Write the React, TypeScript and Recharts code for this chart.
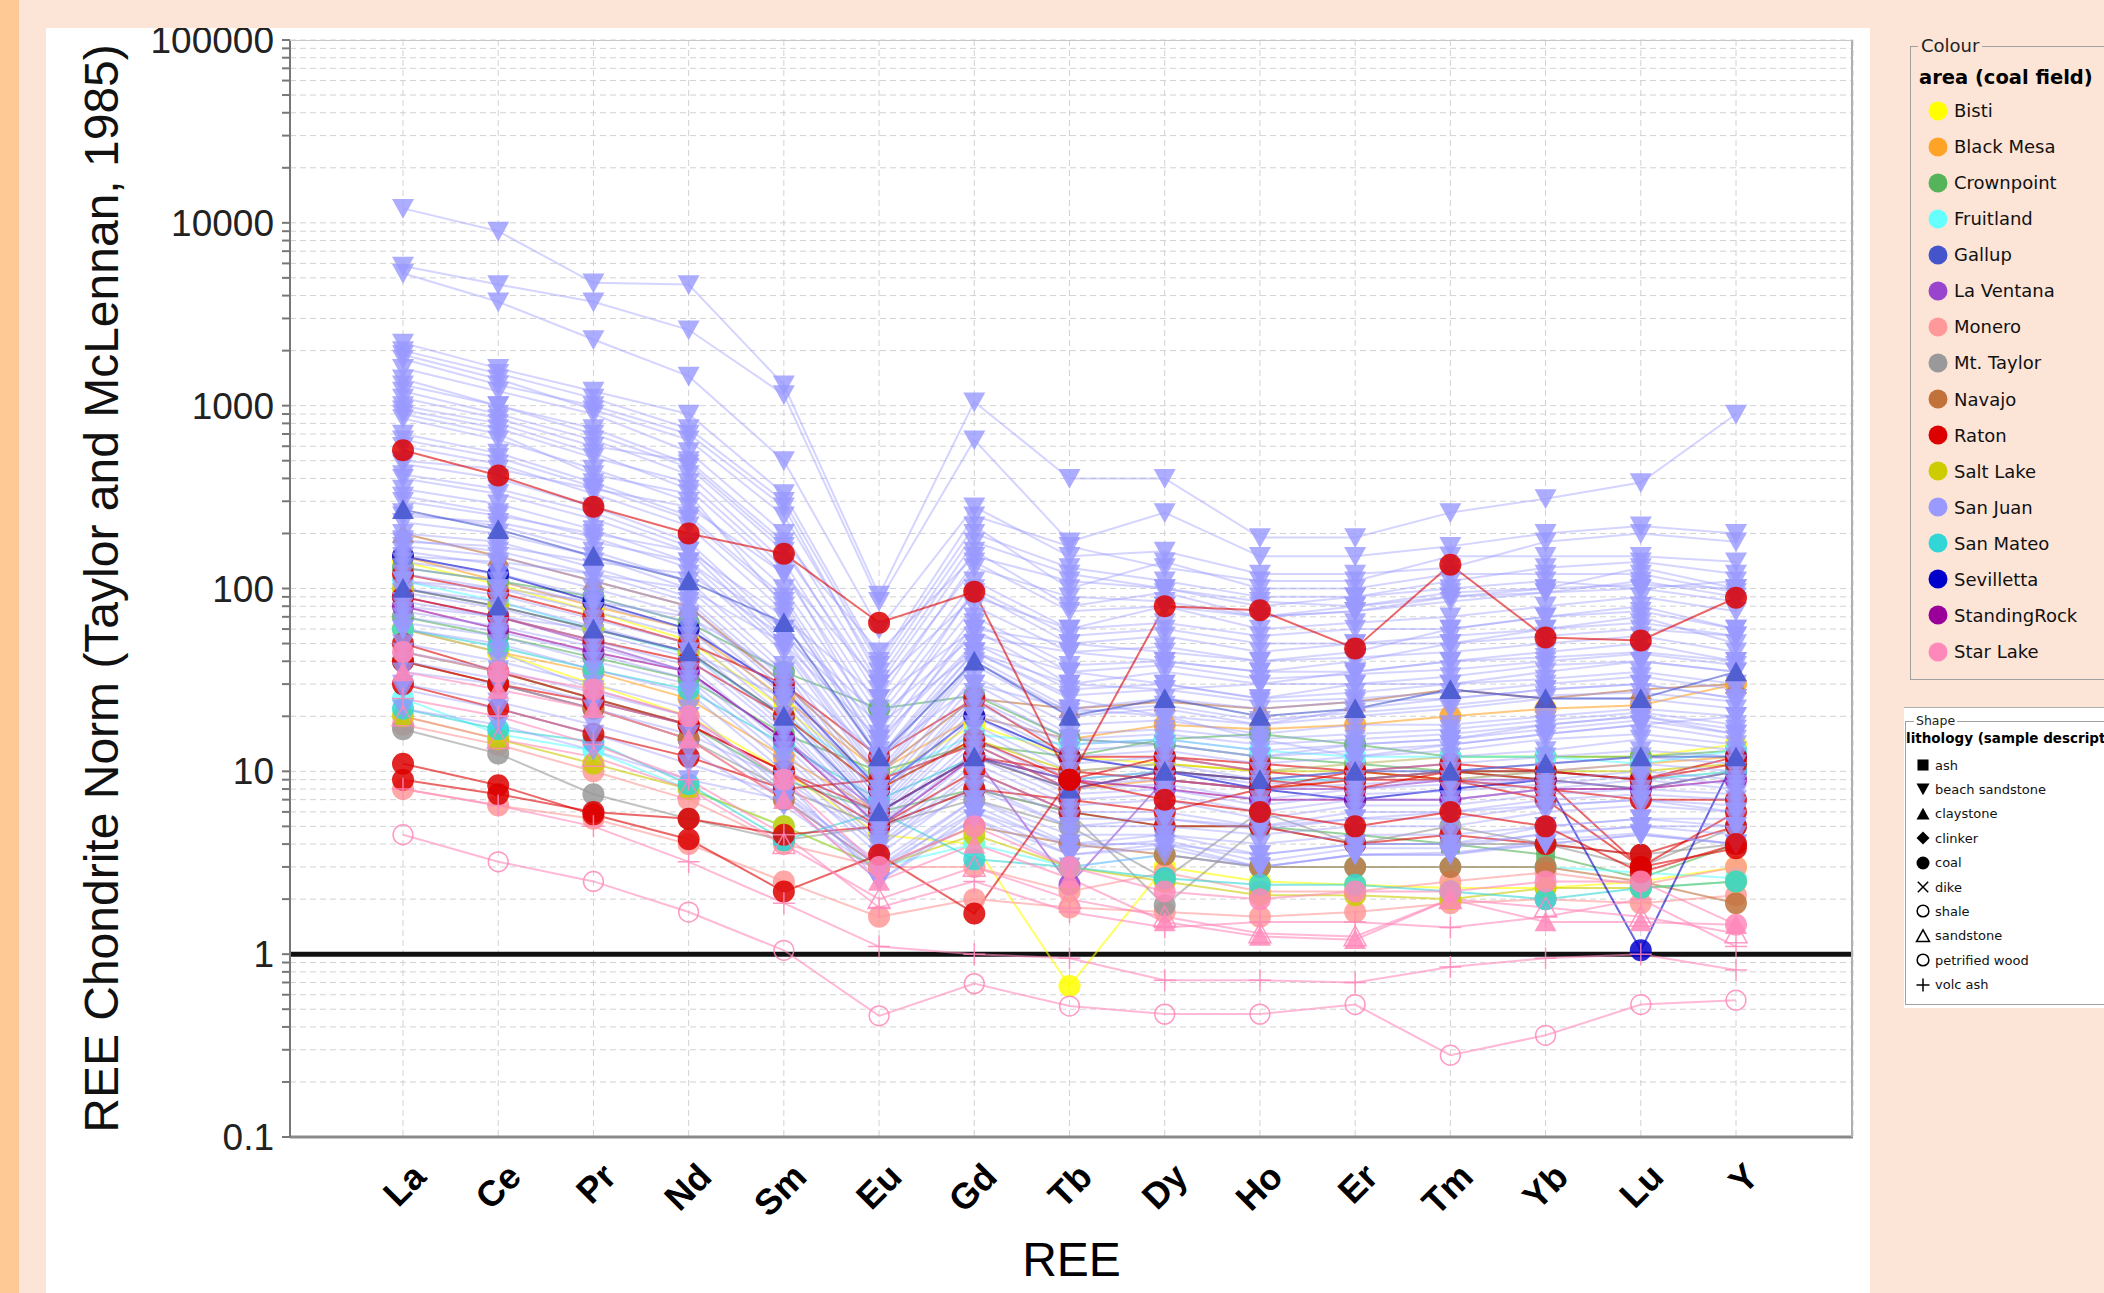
import React from "react";
import {
  LineChart,
  Line,
  XAxis,
  YAxis,
  CartesianGrid,
  ReferenceLine,
  Label,
} from "recharts";

// REE spider diagram, chondrite normalised (Taylor & McLennan, 1985)

const REE = ["La", "Ce", "Pr", "Nd", "Sm", "Eu", "Gd", "Tb", "Dy", "Ho", "Er", "Tm", "Yb", "Lu", "Y"];

const Y_MAJOR = [0.1, 1, 10, 100, 1000, 10000, 100000];

// values per sample, La..Y
const sanJuanBeach: number[][] = [
  [12000, 9000, 4700, 4600, 1300, 92, 1050, 400, 400, 190, 190, 260, 310, 380, 900],
  [5800, 4600, 3700, 2600, 1150, 85, 650, 180, 260, 150, 150, 170, 200, 220, 200],
  [5300, 3700, 2300, 1450, 500, 60, 280, 150, 160, 120, 120, 130, 180, 200, 180],
  [2200, 1600, 1200, 900, 330, 40, 250, 170, 130, 110, 110, 150, 150, 150, 140],
  [2000, 1500, 1100, 750, 300, 38, 220, 100, 140, 100, 100, 120, 120, 120, 95],
  [1900, 1400, 950, 650, 250, 35, 200, 130, 110, 90, 90, 100, 110, 100, 110],
  [1800, 1300, 1000, 700, 280, 32, 180, 120, 100, 85, 80, 95, 100, 105, 100],
  [1600, 1200, 900, 560, 200, 30, 160, 80, 95, 70, 80, 90, 95, 110, 90],
  [1400, 1000, 750, 480, 170, 25, 140, 75, 80, 60, 65, 70, 80, 90, 75],
  [1300, 1000, 700, 460, 160, 28, 130, 90, 85, 70, 75, 85, 95, 100, 85],
  [1200, 900, 650, 420, 140, 22, 110, 60, 65, 55, 60, 60, 70, 75, 60],
  [1100, 850, 600, 500, 180, 45, 150, 110, 100, 80, 90, 110, 130, 140, 120],
  [1000, 800, 550, 350, 120, 20, 95, 50, 55, 45, 50, 50, 55, 60, 55],
  [950, 750, 520, 380, 130, 16, 100, 55, 60, 50, 50, 55, 60, 65, 55],
  [900, 700, 420, 330, 80, 12, 45, 25, 20, 15, 12, 14, 16, 18, 20],
  [850, 650, 450, 300, 100, 18, 80, 45, 48, 40, 42, 45, 50, 55, 45],
  [700, 550, 380, 250, 90, 15, 70, 38, 40, 35, 35, 40, 42, 45, 40],
  [650, 520, 360, 240, 85, 13, 65, 35, 38, 32, 34, 36, 40, 44, 38],
  [600, 480, 330, 220, 75, 14, 60, 30, 35, 30, 30, 33, 38, 40, 35],
  [500, 450, 350, 280, 120, 30, 90, 60, 80, 70, 75, 90, 100, 130, 100],
  [480, 400, 280, 180, 60, 12, 50, 28, 30, 25, 27, 30, 32, 35, 30],
  [420, 350, 260, 170, 55, 11, 45, 26, 28, 24, 25, 27, 30, 33, 28],
  [400, 330, 240, 160, 50, 10, 42, 22, 25, 22, 24, 25, 28, 30, 25],
  [350, 290, 210, 140, 48, 9.5, 40, 21, 23, 19, 21, 23, 26, 27, 24],
  [320, 260, 190, 130, 45, 9, 38, 20, 22, 18, 20, 22, 25, 25, 22],
  [300, 250, 200, 160, 70, 25, 60, 50, 45, 40, 45, 60, 70, 80, 60],
  [260, 220, 160, 110, 38, 8, 33, 18, 19, 16, 18, 18, 20, 22, 20],
  [250, 230, 180, 140, 60, 20, 55, 45, 40, 35, 40, 50, 60, 70, 50],
  [230, 200, 150, 100, 35, 7.5, 30, 16, 17, 15, 16, 17, 19, 21, 18],
  [200, 180, 130, 90, 32, 7, 27, 15, 16, 14, 15, 16, 18, 20, 17],
  [185, 160, 120, 85, 30, 7, 25, 14, 15, 13, 14, 15, 17, 19, 16],
  [180, 170, 140, 120, 55, 18, 45, 30, 28, 30, 35, 40, 45, 50, 40],
  [170, 150, 110, 80, 28, 6.5, 24, 13, 14, 12, 13, 14, 16, 18, 15],
  [160, 135, 100, 72, 26, 6.2, 22, 12, 13, 11, 12, 13, 15, 16, 14],
  [150, 140, 120, 100, 50, 15, 50, 35, 30, 25, 30, 30, 35, 40, 35],
  [140, 120, 90, 65, 24, 6, 20, 11, 12, 10, 11, 12, 13, 15, 13],
  [130, 110, 82, 60, 22, 5.8, 18, 10, 11, 9, 10, 11, 12, 13, 12],
  [120, 100, 75, 55, 20, 5.5, 17, 9, 10, 8.5, 9, 10, 11, 12, 11],
  [110, 100, 85, 70, 35, 12, 30, 22, 20, 18, 22, 25, 28, 30, 25],
  [110, 92, 68, 50, 18, 5.2, 15, 8.5, 9, 8, 8.5, 9, 10, 11, 10],
  [100, 85, 62, 45, 17, 5, 14, 8, 8.5, 7, 8, 8.5, 9, 10, 9],
  [95, 78, 57, 42, 16, 4.8, 13, 7.5, 8, 6.5, 7.5, 7.8, 8.5, 9.5, 8.5],
  [85, 70, 52, 38, 14, 4.5, 12, 7, 7.5, 6, 7, 7, 8, 9, 8],
  [80, 70, 60, 45, 25, 8, 20, 15, 14, 12, 14, 15, 18, 20, 16],
  [75, 62, 48, 35, 13, 4.2, 11, 6.5, 7, 5.5, 6.5, 6.5, 7.5, 8, 7.5],
  [70, 58, 44, 32, 12, 4, 10, 6, 6, 5, 6, 6, 7, 7.5, 7],
  [65, 55, 40, 30, 11, 3.8, 9.5, 5.5, 5.5, 4.8, 5.5, 5.5, 6.5, 7, 6.5],
  [60, 50, 36, 27, 10, 3.5, 8.5, 5, 5, 4.5, 5, 5, 6, 6.5, 6],
  [60, 45, 28, 20, 9, 2.5, 5.5, 3.5, 4, 3, 3.5, 3.5, 4, 4.5, 4],
  [50, 40, 30, 22, 8, 3, 7, 4, 4.5, 3.5, 4, 4, 5, 5.5, 5],
  [45, 36, 27, 20, 7.5, 2.8, 6.5, 3.8, 4.2, 3.2, 3.8, 3.8, 4.6, 5, 4.5],
  [40, 32, 24, 18, 7, 2.5, 6, 3.5, 3.8, 3, 3.5, 3.5, 4.2, 4.6, 4],
  [35, 30, 22, 16, 9, 4, 8, 5, 5.5, 5, 5.5, 6, 6.5, 7, 6],
  [30, 24, 18, 13, 6.5, 2.8, 5.5, 3, 3.5, 3, 3.5, 3.6, 4, 4.5, 4],
  [28, 22, 16, 11, 7.5, 3.2, 7, 4.5, 4.5, 4, 4.5, 4.5, 5, 5.5, 5.5],
  [22, 18, 13, 9, 7, 3, 6, 4, 4, 3.5, 4, 4, 4.5, 5, 5],
];

const blackMesaCoal: number[][] = [
  [150, 110, 80, 60, 25, 10, 20, 15, 18, 17, 18, 20, 22, 23, 30],
  [60, 45, 35, 25, 12, 6, 12, 8, 9, 8, 9, 10, 10, 11, 12],
];
const bistiCoal: number[][] = [
  [60, 45, 30, 20, 10, 4.5, 4, 0.67, 3, 2.5, 2.4, 2.3, 2.3, 2.5, 3],
  [140, 105, 75, 52, 22, 9, 18, 12, 11, 10, 11, 12, 12, 12, 14],
];
const crownpointCoal: number[][] = [
  [130, 110, 90, 65, 35, 22, 26, 15, 14, 12, 11, 10, 9, 8, 10],
  [70, 55, 42, 32, 16, 10, 14, 12, 15, 16, 14, 12, 12, 12, 13],
];
const crownpointAsh: number[][] = [
  [45, 35, 25, 18, 9, 6, 8, 6, 5, 5, 4.5, 4, 3.5, 2.6, 4],
];
const fruitlandCoal: number[][] = [
  [25, 16, 13, 8, 5, 3, 4, 3, 3.5, 3, 3, 3, 3, 2.8, 2.6],
  [110, 85, 60, 44, 20, 9, 16, 14, 15, 13, 12, 12, 12, 11, 13],
];
const gallupClaystone: number[][] = [
  [270, 210, 150, 110, 65, 12, 40, 20, 25, 20, 22, 28, 25, 25, 35],
  [100, 80, 60, 45, 20, 6, 12, 8, 10, 9, 10, 10, 11, 12, 12],
];
const laVentanaCoal: number[][] = [
  [90, 70, 50, 35, 15, 6, 12, 2.4, 9, 8, 8, 9, 9, 8, 10],
];
const moneroCoal: number[][] = [
  [18, 14, 10, 7, 4, 3, 3, 2.2, 2.8, 2.2, 2.2, 2.5, 2.8, 2.4, 3],
  [8, 6.5, 5.5, 4, 2.5, 1.6, 2, 1.8, 1.7, 1.6, 1.7, 1.9, 2, 1.9, 2.1],
];
const mtTaylorCoal: number[][] = [
  [17, 12.5, 7.5, 5.5, 4.2, 5, 7, 5, 2.6, 6, 4, 5, 4, 3, 5],
  [40, 30, 22, 15, 8, 5, 8, 6, 1.85, 5, 4, 4, 4, 3.5, 4],
];
const navajoClaystone: number[][] = [
  [200, 150, 110, 80, 30, 10, 25, 22, 24, 22, 24, 28, 25, 28, 30],
];
const navajoCoal: number[][] = [
  [40, 30, 22, 15, 7, 3, 5, 4, 3.5, 3, 3, 3, 3, 2.5, 1.9],
];
const saltLakeCoal: number[][] = [
  [100, 80, 60, 45, 20, 8, 15, 10, 11, 10, 10, 9, 10, 10, 11],
  [20, 15, 11, 8, 5, 3, 4.5, 3, 2.5, 2.1, 2.1, 2.0, 2.3, 2.3, 2.5],
];
const sanMateoCoal: number[][] = [
  [22, 17, 14.5, 8.5, 4.2, 6, 3.3, 3, 2.6, 2.4, 2.4, 2.2, 2.0, 2.3, 2.5],
  [60, 48, 36, 28, 14, 7, 12, 9, 10, 9, 9, 10, 10, 9, 10],
];
const sevillettaCoal: number[][] = [
  [150, 120, 85, 60, 28, 8, 20, 12, 10, 8, 7, 8, 9, 1.05, 12],
];
const standingRockCoal: number[][] = [
  [80, 60, 45, 35, 15, 5, 12, 9, 8, 7, 7, 7, 8, 8, 9],
];
// mid-range Raton samples, mostly hidden under San Juan
const ratonCoal: number[][] = [
  [30, 22, 16, 12, 8, 9, 14, 8, 10, 9, 8, 10, 9, 3, 6],
  [120, 95, 70, 50, 30, 12, 25, 12, 12, 10, 9, 10, 10, 9, 12],
  [50, 35, 25, 18, 10, 5, 10, 6, 5, 5, 4, 4.5, 4, 3.5, 5],
  [90, 70, 52, 40, 20, 8, 15, 9, 12, 11, 10, 11, 10, 9, 11],
  [40, 30, 24, 18, 10, 6, 12, 10, 9, 8, 9, 9, 8, 7, 7],
  [9, 7.5, 6, 5.5, 4.5, 5, 8, 7, 6, 8, 10, 9, 7, 3, 3.8],
];
const ratonCoalOutliers: number[][] = [
  [570, 415, 280, 200, 155, 65, 96, 9, 80, 76, 47, 135, 54, 52, 89],
  [11, 8.4, 5.8, 4.25, 2.2, 3.5, 1.67, 9, 7, 6, 5, 6, 5, 2.8, 4],
];
const starLakeShale: number[][] = [
  [4.5, 3.2, 2.5, 1.7, 1.05, 0.46, 0.69, 0.52, 0.47, 0.47, 0.53, 0.28, 0.36, 0.53, 0.56],
];
const starLakeVolcAsh: number[][] = [
  [8, 6.5, 5, 3.2, 1.9, 1.1, 1.0, 0.95, 0.72, 0.72, 0.7, 0.85, 0.95, 1.0, 0.82],
  [25, 20, 14, 9, 4.5, 1.8, 2.5, 1.7, 1.4, 1.5, 1.5, 1.4, 1.6, 2, 1.1],
];
const starLakeSandstone: number[][] = [
  [20, 15, 12, 8, 4, 2, 3, 2, 1.6, 1.3, 1.25, 2, 1.8, 1.6, 1.3],
];
const starLakeClaystone: number[][] = [
  [35, 28, 22, 15, 7, 2.5, 4, 2.6, 1.5, 1.25, 1.2, 2, 1.5, 1.5, 1.45],
];
const starLakeCoal: number[][] = [
  [45, 35, 28, 20, 9, 3, 5, 3, 2.2, 2, 2.2, 2.2, 2.5, 2.5, 1.45],
];

const AREAS = [
  "Bisti", "Black Mesa", "Crownpoint", "Fruitland", "Gallup", "La Ventana", "Monero", "Mt. Taylor",
  "Navajo", "Raton", "Salt Lake", "San Juan", "San Mateo", "Sevilletta", "StandingRock", "Star Lake",
];

const AREA_COLORS: Record<string, string> = {
  Bisti: "#FFFF00",
  "Black Mesa": "#FFA326",
  Crownpoint: "#55B35A",
  Fruitland: "#66FFFF",
  Gallup: "#4455CC",
  "La Ventana": "#9944CC",
  Monero: "#FF9999",
  "Mt. Taylor": "#999999",
  Navajo: "#C0723A",
  Raton: "#DD0000",
  "Salt Lake": "#CCCC00",
  "San Juan": "#9999FF",
  "San Mateo": "#33D6D6",
  Sevilletta: "#0000CC",
  StandingRock: "#990099",
  "Star Lake": "#FF88BB",
};

const LITHOLOGIES = [
  { key: "ash", label: "ash" },
  { key: "beach", label: "beach sandstone" },
  { key: "clay", label: "claystone" },
  { key: "clinker", label: "clinker" },
  { key: "coal", label: "coal" },
  { key: "dike", label: "dike" },
  { key: "shale", label: "shale" },
  { key: "sand", label: "sandstone" },
  { key: "wood", label: "petrified wood" },
  { key: "volc", label: "volc ash" },
];

// draw order: most areas under San Juan, a few outliers on top
const SERIES_GROUPS = [
  { area: "Black Mesa", lith: "coal", rows: blackMesaCoal },
  { area: "Bisti", lith: "coal", rows: bistiCoal },
  { area: "Crownpoint", lith: "coal", rows: crownpointCoal },
  { area: "Crownpoint", lith: "ash", rows: crownpointAsh },
  { area: "Fruitland", lith: "coal", rows: fruitlandCoal },
  { area: "La Ventana", lith: "coal", rows: laVentanaCoal },
  { area: "Monero", lith: "coal", rows: moneroCoal },
  { area: "Mt. Taylor", lith: "coal", rows: mtTaylorCoal },
  { area: "Navajo", lith: "clay", rows: navajoClaystone },
  { area: "Navajo", lith: "coal", rows: navajoCoal },
  { area: "Salt Lake", lith: "coal", rows: saltLakeCoal },
  { area: "San Mateo", lith: "coal", rows: sanMateoCoal },
  { area: "Sevilletta", lith: "coal", rows: sevillettaCoal },
  { area: "StandingRock", lith: "coal", rows: standingRockCoal },
  { area: "Raton", lith: "coal", rows: ratonCoal },
  { area: "San Juan", lith: "beach", rows: sanJuanBeach },
  { area: "Gallup", lith: "clay", rows: gallupClaystone },
  { area: "Raton", lith: "coal", rows: ratonCoalOutliers },
  { area: "Star Lake", lith: "shale", rows: starLakeShale },
  { area: "Star Lake", lith: "volc", rows: starLakeVolcAsh },
  { area: "Star Lake", lith: "sand", rows: starLakeSandstone },
  { area: "Star Lake", lith: "clay", rows: starLakeClaystone },
  { area: "Star Lake", lith: "coal", rows: starLakeCoal },
];

type Series = { id: string; area: string; lith: string; values: number[] };

const SERIES: Series[] = SERIES_GROUPS.flatMap((g, gi) =>
  g.rows.map((values, ri) => ({ id: `s${gi}_${ri}`, area: g.area, lith: g.lith, values }))
);

const chartData = REE.map((el, i) => {
  const row: Record<string, any> = { el };
  SERIES.forEach((s) => {
    row[s.id] = s.values[i];
  });
  return row;
});

const Y_TICKS: number[] = [];
Y_MAJOR.forEach((d, i) => {
  Y_TICKS.push(d);
  if (i < Y_MAJOR.length - 1) {
    for (let m = 2; m <= 9; m++) Y_TICKS.push(+(d * m).toPrecision(3));
  }
});

const ARIAL = '"Liberation Sans", Arial, sans-serif';
const TAHOMA = '"DejaVu Sans", Verdana, sans-serif';
const PEACH = "#FCE4D6";

function Marker({ cx, cy, shape, color, r = 11, opacity = 1 }: any) {
  switch (shape) {
    case "ash":
      return <rect x={cx - r * 0.85} y={cy - r * 0.85} width={r * 1.7} height={r * 1.7} fill={color} fillOpacity={opacity} />;
    case "beach":
      return (
        <path
          d={`M${cx - r},${cy - r * 0.85}L${cx + r},${cy - r * 0.85}L${cx},${cy + r * 0.95}Z`}
          fill={color}
          fillOpacity={opacity}
        />
      );
    case "clay":
      return (
        <path
          d={`M${cx - r},${cy + r * 0.85}L${cx + r},${cy + r * 0.85}L${cx},${cy - r * 0.95}Z`}
          fill={color}
          fillOpacity={opacity}
        />
      );
    case "sand":
      return (
        <path
          d={`M${cx - r},${cy + r * 0.85}L${cx + r},${cy + r * 0.85}L${cx},${cy - r * 0.95}Z`}
          fill="none"
          stroke={color}
          strokeOpacity={opacity}
          strokeWidth={1.5}
        />
      );
    case "clinker":
      return (
        <path
          d={`M${cx},${cy - r}L${cx + r},${cy}L${cx},${cy + r}L${cx - r},${cy}Z`}
          fill={color}
          fillOpacity={opacity}
        />
      );
    case "dike":
      return (
        <path
          d={`M${cx - r * 0.8},${cy - r * 0.8}L${cx + r * 0.8},${cy + r * 0.8}M${cx + r * 0.8},${cy - r * 0.8}L${cx - r * 0.8},${cy + r * 0.8}`}
          stroke={color}
          strokeOpacity={opacity}
          strokeWidth={1.5}
        />
      );
    case "shale":
    case "wood":
      return <circle cx={cx} cy={cy} r={r * 0.9} fill="none" stroke={color} strokeOpacity={opacity} strokeWidth={1.5} />;
    case "volc":
      return (
        <path
          d={`M${cx - r},${cy}L${cx + r},${cy}M${cx},${cy - r}L${cx},${cy + r}`}
          stroke={color}
          strokeOpacity={opacity}
          strokeWidth={1.5}
        />
      );
    default:
      return <circle cx={cx} cy={cy} r={r} fill={color} fillOpacity={opacity} />;
  }
}

const makeDot = (s: Series) => (p: any) => {
  const key = `${s.id}-${p.index}`;
  if (p.cx == null || p.cy == null) return <g key={key} />;
  const color = AREA_COLORS[s.area];
  const op = s.area === "San Juan" ? 0.8 : 0.85;
  return (
    <g key={key}>
      <Marker cx={p.cx} cy={p.cy} shape={s.lith} color={color} opacity={op} />
    </g>
  );
};

const XTick = ({ x, y, payload }: any) => (
  <text
    x={x + 16}
    y={y + 25}
    transform={`rotate(-45, ${x + 16}, ${y + 25})`}
    textAnchor="end"
    dominantBaseline="central"
    fontFamily={ARIAL}
    fontWeight={700}
    fontSize={36}
    fill="#000"
  >
    {payload.value}
  </text>
);

function ColourLegend() {
  return (
    <>
      <div
        style={{
          position: "absolute",
          left: 1910,
          top: 46,
          width: 260,
          height: 634,
          border: "1px solid #a0a0a0",
          boxSizing: "border-box",
        }}
      />
      <div
        style={{
          position: "absolute",
          left: 1918,
          top: 35,
          padding: "0 3px",
          background: PEACH,
          fontFamily: TAHOMA,
          fontSize: 18,
          lineHeight: "22px",
          color: "#222",
        }}
      >
        Colour
      </div>
      <div
        style={{
          position: "absolute",
          left: 1919,
          top: 66,
          fontFamily: TAHOMA,
          fontSize: 19.5,
          fontWeight: 700,
          lineHeight: "24px",
          color: "#000",
          whiteSpace: "nowrap",
        }}
      >
        area (coal field)
      </div>
      {AREAS.map((a, i) => (
        <div
          key={a}
          style={{
            position: "absolute",
            left: 1927,
            top: 110.5 + i * 36.07 - 12,
            height: 24,
            display: "flex",
            alignItems: "center",
            whiteSpace: "nowrap",
          }}
        >
          <svg width={22} height={22} style={{ marginRight: 5 }}>
            <circle cx={11} cy={11} r={9.5} fill={AREA_COLORS[a]} />
          </svg>
          <span style={{ fontFamily: TAHOMA, fontSize: 18, color: "#111" }}>{a}</span>
        </div>
      ))}
    </>
  );
}

function ShapeLegend() {
  return (
    <>
      <div
        style={{
          position: "absolute",
          left: 1904,
          top: 707,
          width: 260,
          height: 300,
          background: "#fff",
          borderTop: "1px solid #b0b0b0",
        }}
      />
      <div
        style={{
          position: "absolute",
          left: 1905,
          top: 721,
          width: 260,
          height: 284,
          border: "1px solid #a0a0a0",
          boxSizing: "border-box",
        }}
      />
      <div
        style={{
          position: "absolute",
          left: 1914,
          top: 713,
          padding: "0 2px",
          background: "#fff",
          fontFamily: TAHOMA,
          fontSize: 12.5,
          lineHeight: "16px",
          color: "#222",
        }}
      >
        Shape
      </div>
      <div
        style={{
          position: "absolute",
          left: 1906,
          top: 730,
          fontFamily: TAHOMA,
          fontSize: 13.5,
          fontWeight: 700,
          lineHeight: "17px",
          whiteSpace: "nowrap",
          color: "#000",
        }}
      >
        lithology (sample description)
      </div>
      {LITHOLOGIES.map((l, i) => (
        <div
          key={l.key}
          style={{
            position: "absolute",
            left: 1914,
            top: 765 + i * 24.4 - 10,
            height: 20,
            display: "flex",
            alignItems: "center",
            whiteSpace: "nowrap",
          }}
        >
          <svg width={18} height={18} style={{ marginRight: 3 }}>
            <Marker cx={9} cy={9} shape={l.key} color="#000" r={6.5} />
          </svg>
          <span style={{ fontFamily: TAHOMA, fontSize: 13, color: "#111" }}>{l.label}</span>
        </div>
      ))}
    </>
  );
}

export default function App() {
  return (
    <div
      style={{
        position: "absolute",
        left: 0,
        top: 0,
        width: 2104,
        height: 1293,
        background: PEACH,
        overflow: "hidden",
      }}
    >
      <div style={{ position: "absolute", left: 0, top: 0, width: 19, height: 1293, background: "#FFC995" }} />
      <div style={{ position: "absolute", left: 46, top: 28, width: 1824, height: 1265, background: "#fff" }}>
        <LineChart
          width={1824}
          height={1265}
          data={chartData}
          margin={{ top: 12, right: 17, left: 0, bottom: 0 }}
        >
          <CartesianGrid stroke="#d2d2d2" strokeDasharray="6 4" />
          <XAxis
            dataKey="el"
            interval={0}
            height={156}
            padding={{ left: 113, right: 117 }}
            tickLine={false}
            axisLine={{ stroke: "#8a8a8a", strokeWidth: 3 }}
            tick={<XTick />}
          >
            <Label
              content={(props: any) => {
                const vb = props.viewBox || { x: 244, y: 1109, width: 1563, height: 156 };
                return (
                  <text
                    x={vb.x + vb.width / 2}
                    y={vb.y + 122}
                    textAnchor="middle"
                    dominantBaseline="central"
                    fontFamily={ARIAL}
                    fontSize={48}
                    fill="#000"
                  >
                    REE
                  </text>
                );
              }}
            />
          </XAxis>
          <YAxis
            scale="log"
            domain={[0.1, 100000]}
            allowDataOverflow
            ticks={Y_TICKS}
            interval={0}
            width={244}
            tickSize={8}
            tickMargin={8}
            tickFormatter={(v: number) => (Y_MAJOR.includes(v) ? String(v) : "")}
            tick={{ fontSize: 37, fill: "#222", fontFamily: ARIAL }}
            tickLine={{ stroke: "#777", strokeWidth: 2 }}
            axisLine={{ stroke: "#777", strokeWidth: 2 }}
          >
            <Label
              content={(props: any) => {
                const vb = props.viewBox || { x: 0, y: 12, width: 244, height: 1097 };
                const cy = vb.y + vb.height / 2;
                return (
                  <text
                    x={55}
                    y={cy}
                    transform={`rotate(-90, 55, ${cy})`}
                    textAnchor="middle"
                    dominantBaseline="central"
                    fontFamily={ARIAL}
                    fontSize={48}
                    fill="#111"
                  >
                    REE Chondrite Norm (Taylor and McLennan, 1985)
                  </text>
                );
              }}
            />
          </YAxis>
          <ReferenceLine y={1} stroke="#111" strokeWidth={5} />
          {SERIES.map((s) => (
            <Line
              key={s.id}
              type="linear"
              dataKey={s.id}
              stroke={AREA_COLORS[s.area]}
              strokeOpacity={s.area === "San Juan" ? 0.42 : 0.6}
              strokeWidth={2}
              dot={makeDot(s)}
              activeDot={false}
              isAnimationActive={false}
            />
          ))}
        </LineChart>
        <div
          style={{
            position: "absolute",
            left: 244,
            top: 12,
            width: 1563,
            height: 1097,
            borderTop: "1px solid #c8c8c8",
            borderRight: "2px solid #b0b0b0",
            boxSizing: "border-box",
            pointerEvents: "none",
          }}
        />
      </div>
      <ColourLegend />
      <ShapeLegend />
    </div>
  );
}
